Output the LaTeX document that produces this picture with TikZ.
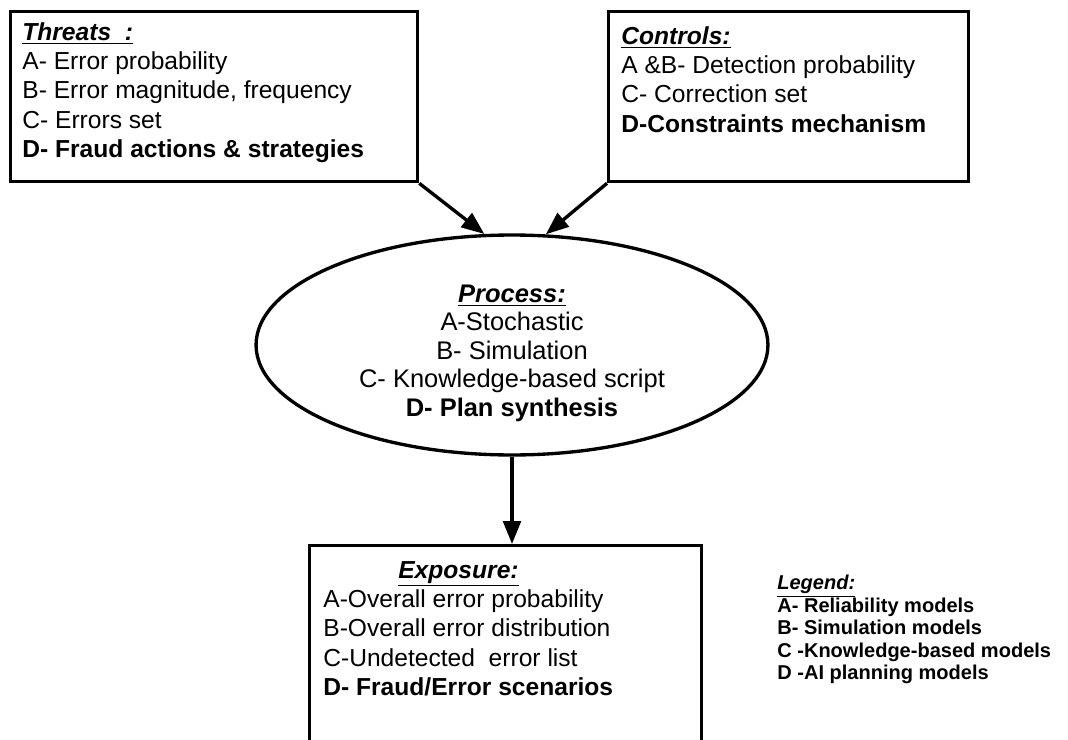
\documentclass[tikz,border=0pt]{standalone}
\usepackage{fontspec}
\setmainfont{Liberation Sans}
\usetikzlibrary{shapes.geometric,arrows.meta}
\newcommand\boxhead[1]{\textbf{\textit{\underline{#1}}}}
\begin{document}
\begin{tikzpicture}[x=0.02cm,y=-0.02cm,
  frame/.style={draw,line width=1.9pt,inner sep=0pt,anchor=north west},
  body/.style={inner sep=0pt,align=left,anchor=north west,
    font=\fontsize{14}{16.7}\selectfont},
  legendtext/.style={inner sep=0pt,align=left,anchor=north west,
    font=\fontsize{11.4}{12.8}\selectfont\bfseries},
  flow/.style={line width=1.9pt,-{Triangle[length=13pt,width=10pt]}}]
\useasboundingbox (0,0) rectangle (1068,740);
\clip (0,0) rectangle (1068,740);

% input boxes
\node[frame,minimum width=8.14cm,minimum height=3.4cm] (threats) at (9,10) {};
\node[body] (threatstext) at (22,22) {\boxhead{Threats\ \ :}\\
  A- Error probability\\
  B- Error magnitude, frequency\\
  C- Errors set\\
  \textbf{D- Fraud actions \& strategies}};

\node[frame,minimum width=7.2cm,minimum height=3.4cm] (controls) at (607,10) {};
\node[body] (controlstext) at (621,26) {\boxhead{Controls:}\\
  A \&B- Detection probability\\
  C- Correction set\\
  \textbf{D-Constraints mechanism}};

% process ellipse and its text
\node[draw,ellipse,line width=1.9pt,inner sep=0pt,
  minimum width=10.24cm,minimum height=4.4cm] (process) at (512,345) {};
\node[inner sep=0pt,align=center,font=\fontsize{14.5}{16.2}\selectfont]
  (processtext) at (512,353) {\boxhead{Process:}\\
  A-Stochastic\\
  B- Simulation\\
  C- Knowledge-based script\\
  \textbf{D- Plan synthesis}};

% output box, running off the lower edge
\node[frame,minimum width=7.84cm,minimum height=4.8cm] (exposure) at (308,544) {};
\node[body] (exposuretext) at (323,561) {\hspace*{1.5cm}\boxhead{Exposure:}\\
  A-Overall error probability\\
  B-Overall error distribution\\
  C-Undetected\ \ error list\\
  \textbf{D- Fraud/Error scenarios}};

% legend
\node[legendtext] (legend) at (777,575) {\boxhead{Legend:}\\
  A- Reliability models\\
  B- Simulation models\\
  C -Knowledge-based models\\
  D -AI planning models};

% connectors
\draw[flow] (threats.south east) -- (process.104);
\draw[flow] (controls.south west) -- (process.73);
\draw[flow] (process.south) -- (process.south |- exposure.north);
\end{tikzpicture}
\end{document}
